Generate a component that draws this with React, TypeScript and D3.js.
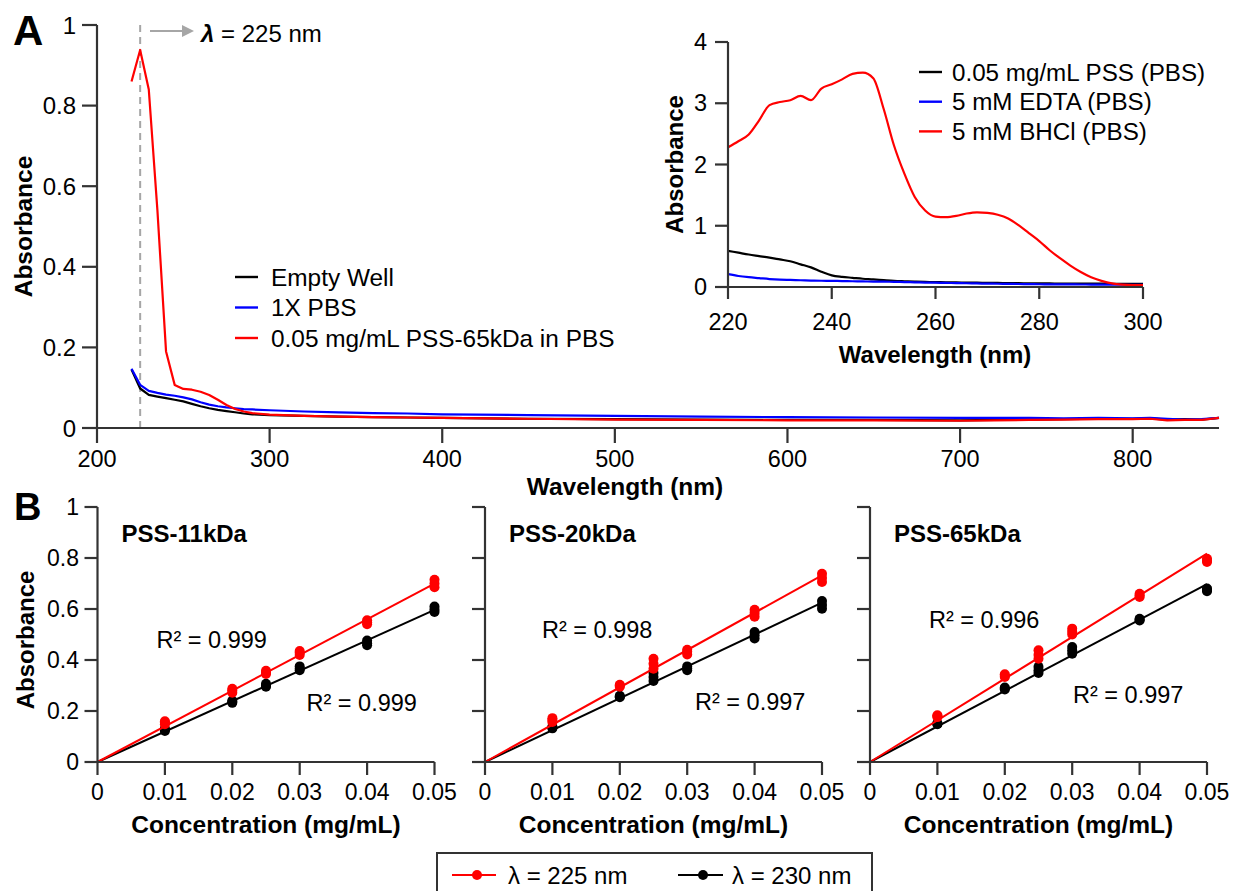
import React from "react";
import * as d3 from "d3";

// ---------- Panel A: full spectra (220–850 nm) ----------
const spectrumWavelengths = [
  220, 225, 230, 235, 240, 245, 250, 255, 260, 265, 270, 275, 280, 285, 290, 300,
  320, 340, 360, 380, 400, 450, 500, 550, 600, 650, 700, 720, 740, 760, 780, 800,
  810, 820, 830, 840, 850,
];
const emptyWell = [
  0.145, 0.098, 0.082, 0.078, 0.074, 0.07, 0.066, 0.06, 0.054, 0.049, 0.045, 0.042,
  0.039, 0.036, 0.034, 0.032, 0.03, 0.028, 0.027, 0.026, 0.025, 0.023, 0.022, 0.021,
  0.02, 0.02, 0.019, 0.02, 0.021, 0.022, 0.023, 0.023, 0.024, 0.021, 0.022, 0.021, 0.025,
];
const pbs1x = [
  0.147, 0.107, 0.092, 0.087, 0.083, 0.08, 0.076, 0.071, 0.064, 0.058, 0.054, 0.051,
  0.049, 0.047, 0.046, 0.044, 0.041, 0.039, 0.037, 0.036, 0.034, 0.032, 0.03, 0.028,
  0.027, 0.026, 0.025, 0.025, 0.025, 0.024, 0.025, 0.024, 0.025, 0.023, 0.021, 0.022, 0.025,
];
const pss65 = [
  0.86, 0.938, 0.84, 0.54, 0.19, 0.107, 0.097, 0.095, 0.09, 0.082, 0.07, 0.057,
  0.047, 0.041, 0.037, 0.033, 0.03, 0.028, 0.027, 0.026, 0.025, 0.023, 0.021, 0.02,
  0.019, 0.019, 0.018, 0.019, 0.02, 0.021, 0.022, 0.022, 0.023, 0.019, 0.02, 0.02, 0.025,
];
const spectraLabels = ["Empty Well", "1X PBS", "0.05 mg/mL PSS-65kDa in PBS"];
const spectraColors = ["#000000", "#0000ff", "#ff0000"];
const xTicksA = [200, 300, 400, 500, 600, 700, 800];
const yTicksA = [0, 0.2, 0.4, 0.6, 0.8, 1];
const markerWavelength = 225;

// ---------- Inset: 220–300 nm ----------
const insetWavelengths = [
  220, 222, 224, 226, 228, 230, 232, 234, 236, 238, 240, 242, 244, 246, 248, 250,
  252, 254, 256, 258, 260, 262, 264, 266, 268, 270, 272, 274, 276, 278, 280, 282,
  284, 286, 288, 290, 292, 294, 296, 298, 300,
];
const insetPSS = [
  0.59, 0.56, 0.53, 0.505, 0.48, 0.45, 0.42, 0.37, 0.32, 0.25, 0.19, 0.165, 0.15,
  0.135, 0.125, 0.112, 0.1, 0.093, 0.087, 0.083, 0.08, 0.077, 0.075, 0.072, 0.07,
  0.068, 0.066, 0.064, 0.062, 0.061, 0.06, 0.058, 0.057, 0.056, 0.055, 0.055, 0.054,
  0.053, 0.052, 0.051, 0.05,
];
const insetEDTA = [
  0.21, 0.18, 0.16, 0.145, 0.13, 0.12, 0.115, 0.11, 0.105, 0.102, 0.1, 0.097, 0.094,
  0.091, 0.089, 0.087, 0.084, 0.081, 0.077, 0.073, 0.07, 0.067, 0.064, 0.061, 0.058,
  0.055, 0.053, 0.051, 0.049, 0.047, 0.045, 0.044, 0.043, 0.042, 0.041, 0.04, 0.039,
  0.038, 0.037, 0.036, 0.035,
];
const insetBHCl = [
  2.28, 2.38, 2.49, 2.72, 2.97, 3.02, 3.05, 3.12, 3.05, 3.24, 3.31, 3.39, 3.48, 3.5,
  3.41, 2.91, 2.31, 1.85, 1.47, 1.25, 1.15, 1.14, 1.16, 1.2, 1.22, 1.21, 1.18, 1.12,
  1.01, 0.88, 0.75, 0.6, 0.47, 0.35, 0.245, 0.16, 0.1, 0.058, 0.038, 0.031, 0.03,
];
const insetLabels = ["0.05 mg/mL PSS (PBS)", "5 mM EDTA (PBS)", "5 mM BHCl (PBS)"];
const insetColors = ["#000000", "#0000ff", "#ff0000"];
const xTicksInset = [220, 240, 260, 280, 300];
const yTicksInset = [0, 1, 2, 3, 4];

// ---------- Panel B: calibration (triplicates) ----------
const concentrations = [0.01, 0.02, 0.025, 0.03, 0.04, 0.05];
const panelTitles = ["PSS-11kDa", "PSS-20kDa", "PSS-65kDa"];
const abs225 = [
  [[0.148, 0.155, 0.16], [0.272, 0.28, 0.287], [0.345, 0.352, 0.358], [0.42, 0.428, 0.435], [0.54, 0.548, 0.556], [0.685, 0.7, 0.715]],
  [[0.157, 0.165, 0.172], [0.295, 0.3, 0.303], [0.366, 0.385, 0.405], [0.422, 0.432, 0.44], [0.57, 0.584, 0.597], [0.706, 0.722, 0.738]],
  [[0.176, 0.18, 0.183], [0.333, 0.338, 0.344], [0.405, 0.42, 0.438], [0.5, 0.511, 0.523], [0.647, 0.653, 0.66], [0.784, 0.79, 0.797]],
];
const abs230 = [
  [[0.122, 0.126, 0.13], [0.232, 0.236, 0.24], [0.295, 0.3, 0.307], [0.36, 0.367, 0.375], [0.458, 0.466, 0.476], [0.588, 0.598, 0.61]],
  [[0.132, 0.135, 0.138], [0.254, 0.257, 0.26], [0.318, 0.333, 0.349], [0.36, 0.367, 0.375], [0.484, 0.497, 0.51], [0.601, 0.616, 0.631]],
  [[0.148, 0.15, 0.152], [0.284, 0.288, 0.292], [0.349, 0.36, 0.373], [0.425, 0.438, 0.451], [0.555, 0.558, 0.562], [0.67, 0.675, 0.68]],
];
const r2At225 = ["0.999", "0.998", "0.996"];
const r2At230 = ["0.999", "0.997", "0.997"];
const xTicksB = [0, 0.01, 0.02, 0.03, 0.04, 0.05];
const xTickLabelsB = ["0", "0.01", "0.02", "0.03", "0.04", "0.05"];
const yTicksB = [0, 0.2, 0.4, 0.6, 0.8, 1];
const legendLabelsB = ["λ = 225 nm", "λ = 230 nm"];
const legendColorsB = ["#ff0000", "#000000"];

const FONT = "'Liberation Sans', Arial, Helvetica, sans-serif";
const AXIS = "#333333";

const fmt = (v: number) => (v === 0 ? "0" : v === 1 ? "1" : String(v));

// least-squares slope for a line forced through the origin
function originSlope(reps: number[][]): number {
  let sxy = 0;
  let sxx = 0;
  reps.forEach((vals, i) => {
    vals.forEach((v) => {
      sxy += concentrations[i] * v;
      sxx += concentrations[i] * concentrations[i];
    });
  });
  return sxy / sxx;
}

function PanelA() {
  const x = d3.scaleLinear().domain([200, 850]).range([97, 1219]);
  const y = d3.scaleLinear().domain([0, 1]).range([428, 25]);
  const series = [emptyWell, pbs1x, pss65];
  const line = d3
    .line<number>()
    .x((_, i) => x(spectrumWavelengths[i]))
    .y((d) => y(d));
  return (
    <g>
      <text x={13} y={45} fontFamily={FONT} fontWeight="bold" fontSize={42}>A</text>
      {/* marker wavelength */}
      <line x1={x(markerWavelength)} x2={x(markerWavelength)} y1={y(1)} y2={y(0)} stroke="#a6a6a6" strokeWidth={2} strokeDasharray="7,5" />
      <line x1={150} x2={184} y1={31} y2={31} stroke="#a6a6a6" strokeWidth={2} />
      <path d="M182,25 L194,31 L182,37 Z" fill="#a6a6a6" />
      <text x={201} y={42} fontFamily={FONT} fontSize={24}>
        <tspan fontStyle="italic" fontWeight="bold">λ</tspan> = 225 nm
      </text>
      {series.map((s, k) => (
        <path key={k} d={line(s) ?? ""} fill="none" stroke={spectraColors[k]} strokeWidth={2.2} strokeLinejoin="round" />
      ))}
      {/* axes */}
      <line x1={x(200)} x2={x(850)} y1={y(0)} y2={y(0)} stroke={AXIS} strokeWidth={2.2} />
      <line x1={x(200)} x2={x(200)} y1={y(0)} y2={y(1)} stroke={AXIS} strokeWidth={2.2} />
      {xTicksA.map((t) => (
        <g key={t}>
          <line x1={x(t)} x2={x(t)} y1={y(0)} y2={y(0) + 15} stroke={AXIS} strokeWidth={2.2} />
          <text x={x(t)} y={467} textAnchor="middle" fontFamily={FONT} fontSize={23.5}>{t}</text>
        </g>
      ))}
      {yTicksA.map((t) => (
        <g key={t}>
          <line x1={x(200) - 15} x2={x(200)} y1={y(t)} y2={y(t)} stroke={AXIS} strokeWidth={2.2} />
          <text x={76} y={y(t)} textAnchor="end" dominantBaseline="central" fontFamily={FONT} fontSize={24}>{fmt(t)}</text>
        </g>
      ))}
      <text x={625} y={495} textAnchor="middle" fontFamily={FONT} fontWeight="bold" fontSize={24.5}>Wavelength (nm)</text>
      <text transform={`translate(23,${(y(0) + y(1)) / 2}) rotate(-90)`} textAnchor="middle" dominantBaseline="central" fontFamily={FONT} fontWeight="bold" fontSize={24.5}>Absorbance</text>
      {/* legend */}
      {spectraLabels.map((lab, k) => (
        <g key={lab}>
          <line x1={235} x2={258} y1={277 + k * 30.5} y2={277 + k * 30.5} stroke={spectraColors[k]} strokeWidth={2.4} />
          <text x={271} y={277 + k * 30.5} dominantBaseline="central" fontFamily={FONT} fontSize={24.4}>{lab}</text>
        </g>
      ))}
    </g>
  );
}

function Inset() {
  const x = d3.scaleLinear().domain([220, 300]).range([728, 1143]);
  const y = d3.scaleLinear().domain([0, 4]).range([287, 42]);
  const series = [insetPSS, insetEDTA, insetBHCl];
  const line = d3
    .line<number>()
    .x((_, i) => x(insetWavelengths[i]))
    .y((d) => y(d))
    .curve(d3.curveMonotoneX);
  return (
    <g>
      {series.map((s, k) => (
        <path key={k} d={line(s) ?? ""} fill="none" stroke={insetColors[k]} strokeWidth={2.2} strokeLinejoin="round" />
      ))}
      <line x1={x(220)} x2={x(300)} y1={y(0)} y2={y(0)} stroke={AXIS} strokeWidth={2.2} />
      <line x1={x(220)} x2={x(220)} y1={y(0)} y2={y(4)} stroke={AXIS} strokeWidth={2.2} />
      {xTicksInset.map((t) => (
        <g key={t}>
          <line x1={x(t)} x2={x(t)} y1={y(0)} y2={y(0) + 12} stroke={AXIS} strokeWidth={2.2} />
          <text x={x(t)} y={322} textAnchor="middle" dominantBaseline="central" fontFamily={FONT} fontSize={23.5}>{t}</text>
        </g>
      ))}
      {yTicksInset.map((t) => (
        <g key={t}>
          <line x1={x(220) - 13} x2={x(220)} y1={y(t)} y2={y(t)} stroke={AXIS} strokeWidth={2.2} />
          <text x={707} y={y(t)} textAnchor="end" dominantBaseline="central" fontFamily={FONT} fontSize={23.5}>{t}</text>
        </g>
      ))}
      <text x={935} y={354} textAnchor="middle" dominantBaseline="central" fontFamily={FONT} fontWeight="bold" fontSize={24}>Wavelength (nm)</text>
      <text transform={`translate(674,${(y(0) + y(4)) / 2}) rotate(-90)`} textAnchor="middle" dominantBaseline="central" fontFamily={FONT} fontWeight="bold" fontSize={24}>Absorbance</text>
      {insetLabels.map((lab, k) => (
        <g key={lab}>
          <line x1={919} x2={942} y1={72 + k * 29.7} y2={72 + k * 29.7} stroke={insetColors[k]} strokeWidth={2.4} />
          <text x={952} y={72 + k * 29.7} dominantBaseline="central" fontFamily={FONT} fontSize={24.2}>{lab}</text>
        </g>
      ))}
    </g>
  );
}

function Calibration({ idx, left }: { idx: number; left: number }) {
  const x = d3.scaleLinear().domain([0, 0.05]).range([left, left + 337]);
  const y = d3.scaleLinear().domain([0, 1]).range([762, 507]);
  const sets = [
    { reps: abs230[idx], color: "#000000" },
    { reps: abs225[idx], color: "#ff0000" },
  ];
  return (
    <g>
      {sets.map((s, k) => {
        const m = originSlope(s.reps);
        return (
          <g key={k}>
            <line x1={x(0)} y1={y(0)} x2={x(0.05)} y2={y(m * 0.05)} stroke={s.color} strokeWidth={2} />
            {s.reps.map((vals, i) =>
              vals.map((v, j) => (
                <circle key={`${i}-${j}`} cx={x(concentrations[i])} cy={y(v)} r={5} fill={s.color} />
              ))
            )}
          </g>
        );
      })}
      <line x1={x(0)} x2={x(0.05)} y1={y(0)} y2={y(0)} stroke={AXIS} strokeWidth={2.2} />
      <line x1={x(0)} x2={x(0)} y1={y(0)} y2={y(1)} stroke={AXIS} strokeWidth={2.2} />
      {xTicksB.map((t, i) => (
        <g key={t}>
          <line x1={x(t)} x2={x(t)} y1={y(0)} y2={y(0) + 13} stroke={AXIS} strokeWidth={2.2} />
          <text x={x(t)} y={792} textAnchor="middle" dominantBaseline="central" fontFamily={FONT} fontSize={23}>{xTickLabelsB[i]}</text>
        </g>
      ))}
      {yTicksB.map((t) => (
        <g key={t}>
          <line x1={x(0) - 13} x2={x(0)} y1={y(t)} y2={y(t)} stroke={AXIS} strokeWidth={2.2} />
          {idx === 0 && (
            <text x={79} y={y(t)} textAnchor="end" dominantBaseline="central" fontFamily={FONT} fontSize={23}>{fmt(t)}</text>
          )}
        </g>
      ))}
      <text x={left + 24} y={533} dominantBaseline="central" fontFamily={FONT} fontWeight="bold" fontSize={24}>{panelTitles[idx]}</text>
      <text x={left + [59, 57, 59][idx]} y={[640, 630, 620][idx]} dominantBaseline="central" fontFamily={FONT} fontSize={23.5}>R² = {r2At225[idx]}</text>
      <text x={left + [209, 210, 203][idx]} y={[703, 702, 695][idx]} dominantBaseline="central" fontFamily={FONT} fontSize={23.5}>R² = {r2At230[idx]}</text>
      <text x={left + 168.5} y={824} textAnchor="middle" dominantBaseline="central" fontFamily={FONT} fontWeight="bold" fontSize={24.5}>Concentration (mg/mL)</text>
      {idx === 0 && (
        <text transform={`translate(25,640) rotate(-90)`} textAnchor="middle" dominantBaseline="central" fontFamily={FONT} fontWeight="bold" fontSize={24}>Absorbance</text>
      )}
    </g>
  );
}

function LegendB() {
  const items = [
    { x1: 452, x2: 496, dot: 477, tx: 508 },
    { x1: 678, x2: 723, dot: 703, tx: 732 },
  ];
  return (
    <g>
      <rect x={437} y={853} width={435} height={60} fill="white" stroke={AXIS} strokeWidth={2} />
      {items.map((it, k) => (
        <g key={k}>
          <line x1={it.x1} x2={it.x2} y1={875} y2={875} stroke={legendColorsB[k]} strokeWidth={2} />
          <circle cx={it.dot} cy={875} r={5} fill={legendColorsB[k]} />
          <text x={it.tx} y={875} dominantBaseline="central" fontFamily={FONT} fontSize={24}>{legendLabelsB[k]}</text>
        </g>
      ))}
    </g>
  );
}

export default function App() {
  return (
    <svg width={1241} height={891} style={{ display: "block", position: "absolute", left: 0, top: 0, background: "white" }}>
      <rect x={0} y={0} width={1241} height={891} fill="white" />
      <PanelA />
      <Inset />
      <text x={14} y={520} fontFamily={FONT} fontWeight="bold" fontSize={38}>B</text>
      {[97.5, 485, 870].map((left, i) => (
        <Calibration key={i} idx={i} left={left} />
      ))}
      <LegendB />
    </svg>
  );
}
